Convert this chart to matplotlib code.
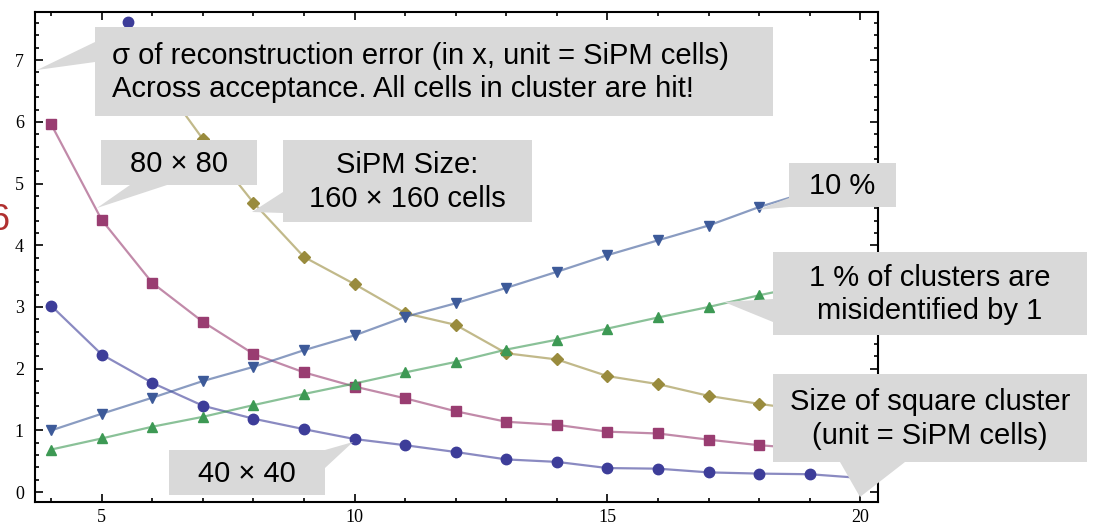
import numpy as np
import matplotlib.pyplot as plt
from matplotlib.patches import Polygon
from matplotlib.ticker import MultipleLocator

W, H = 1097, 526

# cluster size (unit = SiPM cells)
x = np.arange(4, 21)

# sigma of reconstruction error for the different SiPM sizes
sig_40 = [3.02, 2.23, 1.77, 1.40, 1.19, 1.02, 0.86, 0.76, 0.65, 0.53, 0.49, 0.39, 0.38, 0.32, 0.30, 0.29, 0.23]
sig_80 = [5.96, 4.41, 3.39, 2.76, 2.24, 1.94, 1.71, 1.52, 1.31, 1.14, 1.09, 0.98, 0.95, 0.85, 0.76, 0.70, 0.65]
x_160 = np.arange(6, 21)
sig_160 = [6.85, 5.72, 4.69, 3.81, 3.37, 2.90, 2.71, 2.25, 2.15, 1.88, 1.75, 1.56, 1.43, 1.32, 1.22]
# misidentification lines
mis_1 = [0.69, 0.87, 1.06, 1.22, 1.41, 1.59, 1.76, 1.94, 2.11, 2.31, 2.47, 2.65, 2.83, 3.00, 3.19, 3.36, 3.54]
mis_10 = [1.00, 1.27, 1.53, 1.80, 2.03, 2.30, 2.54, 2.84, 3.06, 3.31, 3.57, 3.84, 4.08, 4.32, 4.62, 4.87, 5.13]
# stray point at the top
x_top = [5.52]
y_top = [7.62]

c1 = '#3d3d99'
c2 = '#993d71'
c3 = '#998b3d'
c4 = '#3d9954'
c5 = '#3d5a99'

fig = plt.figure(figsize=(W / 100, H / 100), dpi=100)
ax = fig.add_axes([35 / W, 1 - 502 / H, (878 - 35) / W, (502 - 12) / H])

series = [(x, sig_40, 'o', c1, 7.5), (x, sig_80, 's', c2, 7), (x_160, sig_160, 'D', c3, 6.5),
          (x, mis_1, '^', c4, 7.5), (x, mis_10, 'v', c5, 7.5)]
for xs, ys, m, c, ms in series:
    ax.plot(xs, ys, '-', color=c, lw=1.6, alpha=0.6)
    ax.plot(xs, ys, m, color=c, ms=ms)
ax.plot(x_top, y_top, 'o', color=c1, ms=7.5)

ax.set_xlim(3.68, 20.35)
ax.set_ylim(-0.16, 7.78)
ax.xaxis.set_major_locator(MultipleLocator(5))
ax.xaxis.set_minor_locator(MultipleLocator(1))
ax.yaxis.set_major_locator(MultipleLocator(1))
ax.yaxis.set_minor_locator(MultipleLocator(0.2))
ax.tick_params(which='both', direction='in', top=True, right=True, width=1.2,
               labelsize=13)
ax.tick_params(axis='y', pad=8)
ax.tick_params(axis='x', pad=5)
ax.tick_params(which='major', length=6)
ax.tick_params(which='minor', length=3)
for lab in ax.get_xticklabels() + ax.get_yticklabels():
    lab.set_family('Liberation Serif')
for s in ax.spines.values():
    s.set_linewidth(1.5)

gray = '#d9d9d9'


def callout(box, tip, base, text, ha='center', tx=None):
    # box and pointer given in pixel coords of the image
    x0, y0, x1, y1 = box
    pts = [(x0, y0), (x1, y0), (x1, y1), (x0, y1)]
    fig.patches.append(Polygon([(px / W, 1 - py / H) for px, py in pts],
                               closed=True, transform=fig.transFigure,
                               facecolor=gray, edgecolor='none', zorder=5))
    tri = [tip, base[0], base[1]]
    fig.patches.append(Polygon([(px / W, 1 - py / H) for px, py in tri],
                               closed=True, transform=fig.transFigure,
                               facecolor=gray, edgecolor='none', zorder=5))
    if tx is None:
        tx = (x0 + x1) / 2
    fig.text(tx / W, 1 - ((y0 + y1) / 2 + 1) / H, text, ha=ha, va='center',
             multialignment=ha, fontsize=21, family='Liberation Sans',
             linespacing=1.25, zorder=6)


callout((95, 27, 773, 116), (37, 70), [(95, 42), (95, 62)],
        'σ of reconstruction error (in x, unit = SiPM cells)\nAcross acceptance. All cells in cluster are hit!',
        ha='left', tx=112)
callout((101, 140, 257, 185), (97, 208), [(130, 185), (167, 185)], '80 × 80')
callout((283, 140, 532, 222), (252, 212), [(283, 192), (283, 213)],
        'SiPM Size:\n160 × 160 cells')
callout((789, 163, 896, 207), (757, 210), [(789, 198), (789, 207)], '10 %')
callout((773, 252, 1087, 335), (724, 302), [(773, 299), (773, 322)],
        '1 % of clusters are\nmisidentified by 1')
callout((773, 374, 1087, 462), (860, 497), [(840, 462), (905, 462)],
        'Size of square cluster\n(unit = SiPM cells)')
callout((169, 450, 325, 495), (353, 442), [(325, 450), (325, 468)], '40 × 40')

# partly visible red glyph at the left edge
fig.text(9 / W, 1 - 220 / H, '6', ha='right', va='center', color='#b03030',
         fontsize=26, family='Liberation Sans')

plt.savefig('out.png', dpi=100)
